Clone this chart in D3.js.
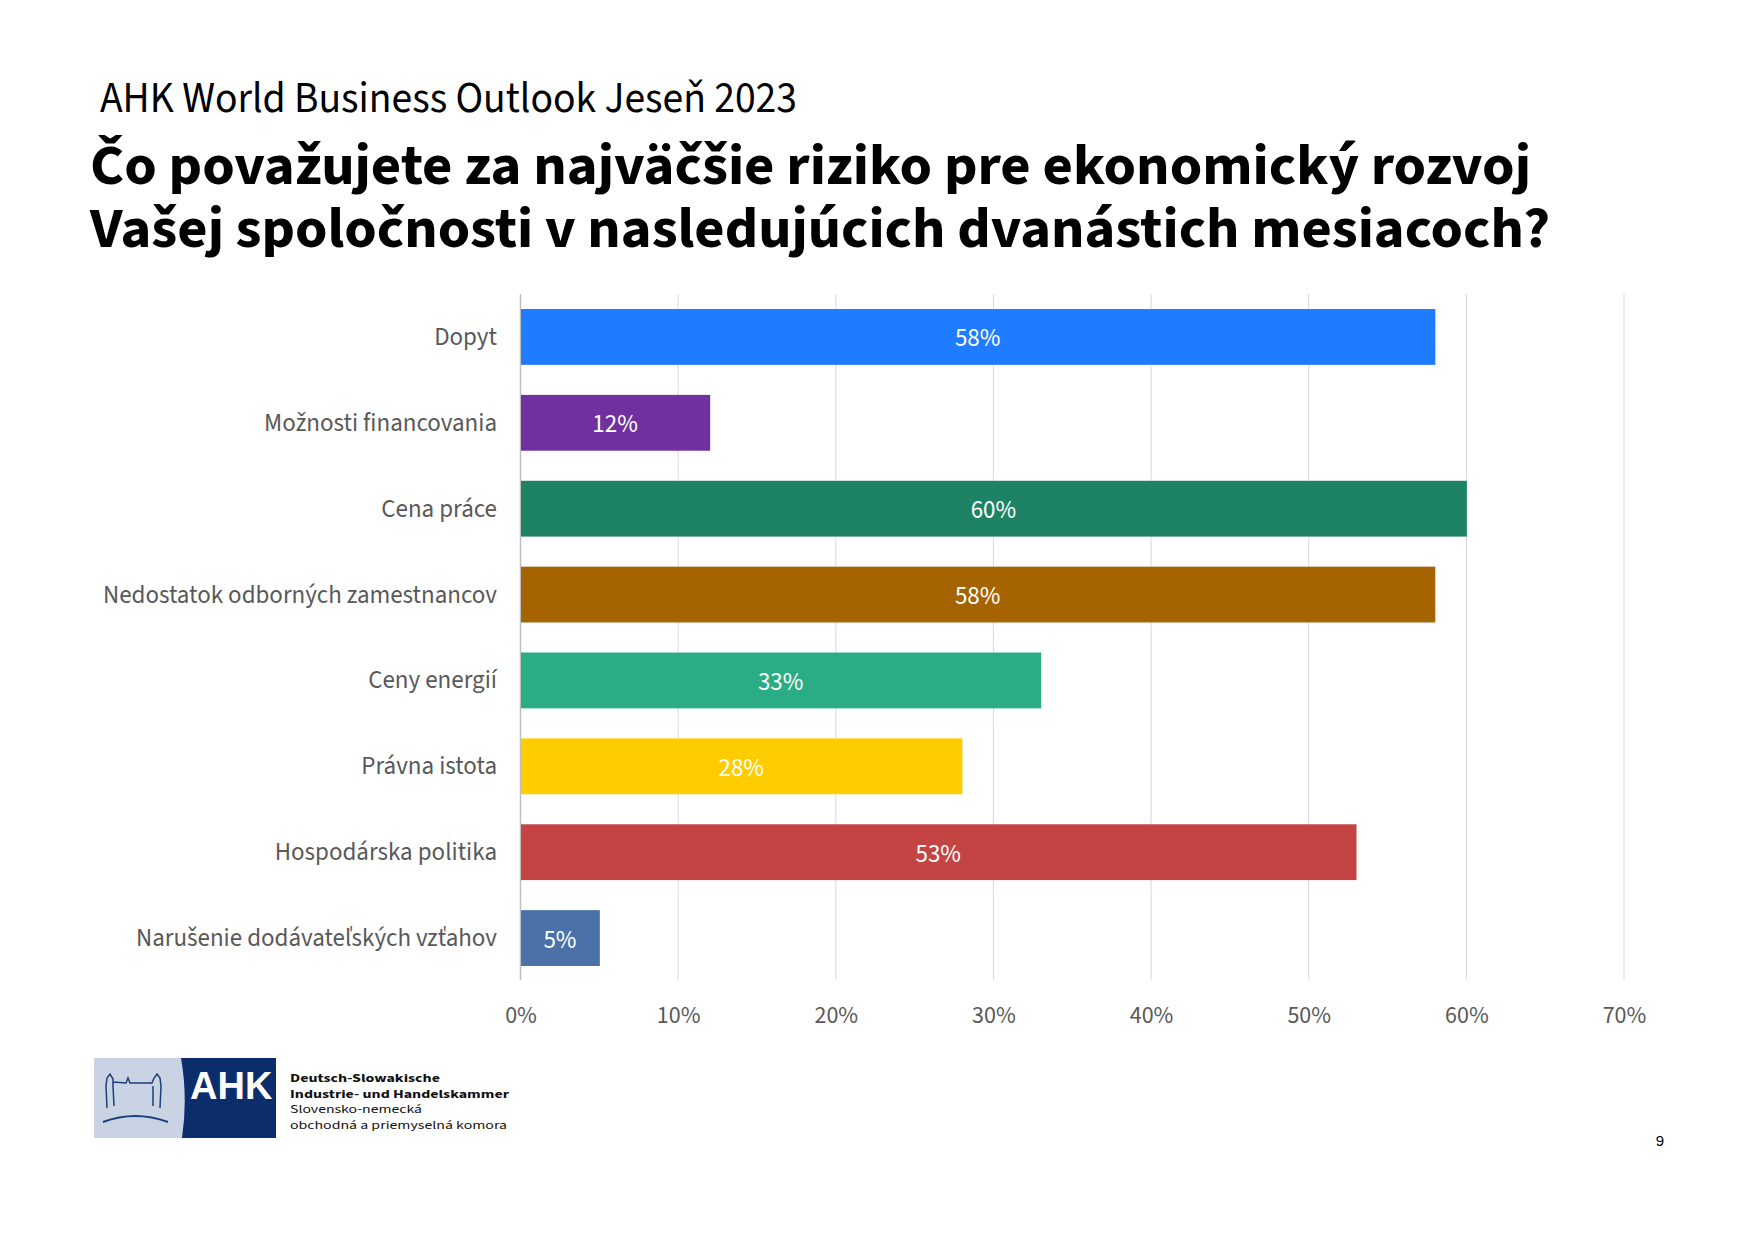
<!DOCTYPE html>
<html>
<head>
<meta charset="utf-8">
<script src="https://cdn.jsdelivr.net/npm/d3@7/dist/d3.min.js"></script>
<style>
  html, body { margin: 0; padding: 0; background: #fff; }
  svg { display: block; font-family: "Source Sans Pro", "Source Sans 3", Lato, "Noto Sans", sans-serif; }
</style>
</head>
<body>
<div id="chart"></div>
<script>
// Data
const categories = [
    "Dopyt",
    "Možnosti financovania",
    "Cena práce",
    "Nedostatok odborných zamestnancov",
    "Ceny energií",
    "Právna istota",
    "Hospodárska politika",
    "Narušenie dodávateľských vzťahov"
];
const values = [58, 12, 60, 58, 33, 28, 53, 5];
const tickValues = [0, 10, 20, 30, 40, 50, 60, 70];
const palette = ["#1f7bff", "#7030a0", "#1e8264", "#a66400", "#2aac84", "#ffcc00", "#c44444", "#4a72a8"];

const subtitle = "AHK World Business Outlook Jeseň 2023";
const titleLines = [
    "Čo považujete za najväčšie riziko pre ekonomický rozvoj",
    "Vašej spoločnosti v nasledujúcich dvanástich mesiacoch?"
];

function drawChart() {
    const W = 1755, H = 1240;

    const svg = d3.select("#chart")
        .append("svg")
        .attr("width", W)
        .attr("height", H);

    // Titles
    svg.append("text")
        .attr("x", 100)
        .attr("y", 112)
        .attr("font-size", 44)
        .attr("fill", "#000")
        .attr("textLength", 697)
        .attr("lengthAdjust", "spacingAndGlyphs")
        .text(subtitle);

    svg.selectAll("text.title")
        .data(titleLines)
        .enter()
        .append("text")
        .attr("class", "title")
        .attr("x", 90)
        .attr("y", (d, i) => 184 + i * 63)
        .attr("font-size", 57)
        .attr("font-weight", "bold")
        .attr("fill", "#000")
        .attr("textLength", (d, i) => i === 0 ? 1441 : 1460)
        .attr("lengthAdjust", "spacingAndGlyphs")
        .text(d => d);

    // Scales
    const x = d3.scaleLinear()
        .domain([0, 70])
        .range([520.5, 1624]);

    const y = d3.scaleBand()
        .domain(categories)
        .range([294, 981])
        .paddingInner(0.35)
        .paddingOuter(0.175);

    const color = d3.scaleOrdinal()
        .domain(categories)
        .range(palette);

    // Grid lines
    svg.append("g")
        .selectAll("line")
        .data(tickValues)
        .enter()
        .append("line")
        .attr("x1", d => x(d))
        .attr("x2", d => x(d))
        .attr("y1", 294)
        .attr("y2", 980)
        .attr("stroke", d => d === 0 ? "#bfbfbf" : "#d9d9d9")
        .attr("stroke-width", d => d === 0 ? 1.5 : 1);

    // X axis labels
    const xAxis = svg.append("g")
        .attr("transform", "translate(0,1006)")
        .call(d3.axisBottom(x).tickValues(tickValues).tickFormat(d => d + "%").tickSize(0).tickPadding(0));
    xAxis.attr("font-family", null);
    xAxis.select(".domain").remove();
    xAxis.selectAll("text")
        .attr("dy", "0.71em")
        .attr("font-size", 24)
        .attr("fill", "#595959");

    // Y axis labels
    const yAxis = svg.append("g")
        .attr("transform", "translate(497,0)")
        .call(d3.axisLeft(y).tickSize(0).tickPadding(0));
    yAxis.attr("font-family", null);
    yAxis.select(".domain").remove();
    yAxis.selectAll("text")
        .attr("font-size", 25)
        .attr("fill", "#595959");

    // Bars
    svg.append("g")
        .selectAll("rect")
        .data(values)
        .enter()
        .append("rect")
        .attr("x", x(0) + 0.5)
        .attr("y", (d, i) => y(categories[i]))
        .attr("width", d => x(d) - x(0))
        .attr("height", y.bandwidth())
        .attr("fill", (d, i) => color(categories[i]));

    // Value labels
    svg.append("g")
        .selectAll("text")
        .data(values)
        .enter()
        .append("text")
        .attr("x", d => (x(0) + x(d)) / 2)
        .attr("y", (d, i) => y(categories[i]) + y.bandwidth() / 2)
        .attr("dy", "0.38em")
        .attr("text-anchor", "middle")
        .attr("font-size", 25)
        .attr("fill", "#fff")
        .text(d => d + "%");

    // Logo
    const logo = svg.append("g");
    logo.append("rect")
        .attr("x", 94).attr("y", 1058)
        .attr("width", 182).attr("height", 80)
        .attr("fill", "#c9d3e3");
    logo.append("path")
        .attr("d", "M181,1058 Q188,1098 182,1138 L276,1138 L276,1058 Z")
        .attr("fill", "#0c2d6b");
    logo.append("path")
        .attr("d", "M106,1086 L107,1078 L110,1074 L113,1079 L113,1086 M113,1082 L126,1083 L128,1078 L130,1083 L152,1083 L154,1078 L157,1074 L160,1078 L161,1086 M106,1086 L107,1108 M161,1086 L160,1108 M113,1086 L114,1106 M153,1086 L153,1106")
        .attr("fill", "none")
        .attr("stroke", "#1d3f7a")
        .attr("stroke-width", 1.5);
    logo.append("path")
        .attr("d", "M103,1122 Q135,1110 168,1122")
        .attr("fill", "none")
        .attr("stroke", "#1d3f7a")
        .attr("stroke-width", 2);
    logo.append("text")
        .attr("x", 190).attr("y", 1099)
        .attr("font-family", "Liberation Sans, Arial, sans-serif")
        .attr("font-weight", "bold")
        .attr("font-size", 38)
        .attr("fill", "#fff")
        .text("AHK");

    const logoLines = [
        { t: "Deutsch-Slowakische", b: true, w: 150 },
        { t: "Industrie- und Handelskammer", b: true, w: 219 },
        { t: "Slovensko-nemecká", b: false, w: 132 },
        { t: "obchodná a priemyselná komora", b: false, w: 217 }
    ];
    logo.selectAll("text.ll")
        .data(logoLines)
        .enter()
        .append("text")
        .attr("class", "ll")
        .attr("x", 290)
        .attr("y", (d, i) => 1082 + i * 15.7)
        .attr("font-size", 12.5)
        .attr("font-weight", d => d.b ? "bold" : "normal")
        .attr("fill", "#111")
        .attr("textLength", d => d.w)
        .attr("lengthAdjust", "spacingAndGlyphs")
        .text(d => d.t);

    // Page number
    svg.append("text")
        .attr("x", 1660).attr("y", 1146)
        .attr("font-family", "Liberation Sans, Arial, sans-serif")
        .attr("font-size", 15)
        .attr("fill", "#000")
        .attr("text-anchor", "middle")
        .text("9");
}

drawChart();
</script>
</body>
</html>
